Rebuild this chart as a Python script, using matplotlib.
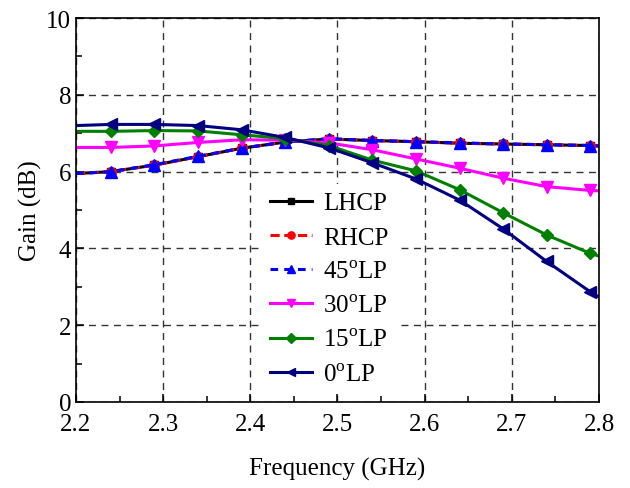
import matplotlib
matplotlib.use("Agg")
import matplotlib.pyplot as plt
from matplotlib.ticker import MultipleLocator, FormatStrFormatter

plt.rcParams['font.family'] = ['Liberation Serif', 'DejaVu Serif']
plt.rcParams['mathtext.fontset'] = 'custom'
plt.rcParams['mathtext.rm'] = 'Liberation Serif'

freq = [2.20, 2.24, 2.29, 2.34, 2.39, 2.44, 2.49, 2.54, 2.59, 2.64, 2.69, 2.74, 2.79, 2.80]
lhcp = [5.95, 6.00, 6.17, 6.39, 6.61, 6.77, 6.85, 6.81, 6.78, 6.74, 6.72, 6.70, 6.68, 6.67]
rhcp = [5.95, 6.00, 6.17, 6.39, 6.61, 6.77, 6.85, 6.81, 6.78, 6.74, 6.72, 6.70, 6.68, 6.67]
lp45 = [5.95, 6.00, 6.18, 6.40, 6.61, 6.77, 6.86, 6.81, 6.78, 6.75, 6.72, 6.70, 6.68, 6.67]
lp30 = [6.63, 6.63, 6.67, 6.76, 6.83, 6.82, 6.75, 6.57, 6.33, 6.09, 5.83, 5.61, 5.51, 5.50]
lp15 = [7.05, 7.05, 7.07, 7.06, 6.96, 6.86, 6.68, 6.30, 6.02, 5.53, 4.93, 4.35, 3.87, 3.80]
lp0 = [7.20, 7.23, 7.23, 7.20, 7.09, 6.89, 6.62, 6.23, 5.81, 5.26, 4.51, 3.66, 2.87, 2.73]

labels = ['LHCP', 'RHCP', r'45$^{\mathrm{o}}$LP', r'30$^{\mathrm{o}}$LP',
          r'15$^{\mathrm{o}}$LP', r'0$^{\mathrm{o}}$LP']

fig = plt.figure(figsize=(6.3, 4.89), dpi=100)
ax = fig.add_axes([0.1206, 0.1759, 0.8302, 0.7851])

mk = list(range(1, len(freq) - 1))
lw = 2.2
ax.plot(freq, lhcp, color='black', lw=lw, marker='s', ms=6, markevery=mk, label=labels[0])
ax.plot(freq, rhcp, color='red', lw=lw, ls=(0, (3, 1.5)), marker='o', ms=7, markevery=mk, label=labels[1])
ax.plot(freq, lp45, color='blue', lw=lw, ls=(0, (2.5, 2)), marker='^', ms=8, markevery=mk, label=labels[2])
ax.plot(freq, lp30, color='magenta', lw=lw, marker='v', ms=8, markevery=mk, label=labels[3])
ax.plot(freq, lp15, color='green', lw=lw, marker='D', ms=6.5, markevery=mk, label=labels[4])
ax.plot(freq, lp0, color='navy', lw=lw, marker='<', ms=8.5, markevery=mk, label=labels[5])

ax.set_xlim(2.2, 2.8)
ax.set_ylim(0, 10)
ax.xaxis.set_major_locator(MultipleLocator(0.1))
ax.xaxis.set_minor_locator(MultipleLocator(0.05))
ax.xaxis.set_major_formatter(FormatStrFormatter('%.1f'))
ax.yaxis.set_major_locator(MultipleLocator(2))
ax.yaxis.set_minor_locator(MultipleLocator(1))
ax.tick_params(which='both', direction='in', top=False, right=False, labelsize=18)
ax.tick_params(which='major', length=6, width=1.1)
ax.tick_params(which='minor', length=4, width=1.1)
ax.tick_params(axis='x', pad=8)
ax.grid(True, which='major', color='#333333', ls=(0, (5, 4)), lw=1.0)
for s in ax.spines.values():
    s.set_linewidth(1.2)

ax.set_xlabel('Frequency (GHz)', fontsize=18, labelpad=16)
ax.set_ylabel('Gain (dB)', fontsize=18, labelpad=3)

leg = ax.legend(loc='upper left', bbox_to_anchor=(0.356, 0.567), fontsize=18,
                frameon=True, framealpha=1, facecolor='white', edgecolor='none',
                fancybox=False, borderaxespad=0, borderpad=0.3, handlelength=1.7,
                handletextpad=0.45, labelspacing=0.47, markerscale=0.75)

fig.savefig('out.png', dpi=100)
